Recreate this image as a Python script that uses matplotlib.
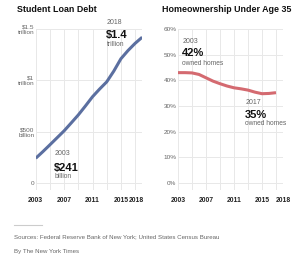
import numpy as np
import matplotlib
matplotlib.use("Agg")
import matplotlib.pyplot as plt
from matplotlib.transforms import ScaledTranslation

plt.rcParams['font.family'] = ['Liberation Sans', 'DejaVu Sans']

# Student loan debt (trillions of dollars)
anos_deuda = [2003, 2004, 2005, 2006, 2007, 2008, 2009, 2010, 2011,
              2012, 2013, 2014, 2015, 2016, 2017, 2018]
deuda = [0.241, 0.305, 0.372, 0.440, 0.508, 0.585, 0.663, 0.750, 0.840,
         0.915, 0.985, 1.090, 1.210, 1.290, 1.360, 1.420]

# Homeownership under age 35 (percent)
anos_casa = [2003, 2004, 2005, 2006, 2007, 2008, 2009, 2010, 2011,
             2012, 2013, 2014, 2015, 2016, 2017]
propietarios = [43.0, 43.0, 42.9, 42.3, 41.0, 39.7, 38.7, 37.8, 37.1,
                36.7, 36.2, 35.4, 34.8, 34.9, 35.2]

ticks_x = [2003, 2007, 2011, 2015, 2018]
grid_x = [2003, 2005, 2007, 2009, 2011, 2013, 2015, 2017, 2018]
ticks_deuda = [0, 0.5, 1.0, 1.5]
etiquetas_deuda = ['0', '$500\nbillion', '$1\ntrillion', '$1.5\ntrillion']
ticks_casa = [0, 10, 20, 30, 40, 50, 60]
etiquetas_casa = ['0%', '10%', '20%', '30%', '40%', '50%', '60%']

azul = '#5b6fa0'
rojo = '#d46a70'
gris_grid = '#e8e8e8'
gris_texto = '#666666'

fig = plt.figure(figsize=(3.0, 2.57), dpi=100)
ax1 = fig.add_axes([0.119, 0.2607, 0.355, 0.6265])
ax2 = fig.add_axes([0.5933, 0.2607, 0.35, 0.6265])


def estilo(ax):
    for s in ax.spines.values():
        s.set_visible(False)
    ax.set_xlim(2003, 2018)
    for g in grid_x:
        ax.axvline(g, color=gris_grid, lw=0.7, zorder=0)
    ax.tick_params(length=0, pad=1)
    ax.set_xticks(ticks_x)
    ax.set_xticklabels([str(a) for a in ticks_x], fontsize=4.9,
                       fontweight='bold', color='#222222')
    ax.tick_params(axis='x', pad=5)


# left: student loan debt
estilo(ax1)
ax1.set_ylim(-0.068, 1.5)
for v in ticks_deuda:
    ax1.axhline(v, color=gris_grid, lw=0.7, zorder=0)
ax1.set_yticks(ticks_deuda)
ax1.set_yticklabels(etiquetas_deuda, fontsize=4.6, color=gris_texto,
                    linespacing=1.1)
ultima = ax1.get_xticklabels()[-1]
ultima.set_transform(ultima.get_transform() +
                     ScaledTranslation(-6 / 100, 0, fig.dpi_scale_trans))
ax1.plot(anos_deuda, deuda, color=azul, lw=2.2, solid_capstyle='butt')

ax1.text(2005.6, 0.285, '2003', fontsize=5, color=gris_texto, va='center')
ax1.text(2005.5, 0.149, '$241', fontsize=8, fontweight='bold',
         color='#111111', va='center')
ax1.text(2005.6, 0.061, 'billion', fontsize=4.8, color=gris_texto, va='center')
ax1.text(2013.0, 1.56, '2018', fontsize=5, color=gris_texto, va='center',
         clip_on=False)
ax1.text(2012.9, 1.44, '$1.4', fontsize=8, fontweight='bold',
         color='#111111', va='center')
ax1.text(2013.0, 1.35, 'trillion', fontsize=4.8, color=gris_texto, va='center')

# right: homeownership
estilo(ax2)
ax2.set_ylim(-2.7, 60)
for v in ticks_casa:
    ax2.axhline(v, color=gris_grid, lw=0.7, zorder=0)
ax2.set_yticks(ticks_casa)
ax2.set_yticklabels(etiquetas_casa, fontsize=4.6, color=gris_texto)
ax2.plot(anos_casa, propietarios, color=rojo, lw=2.2, solid_capstyle='butt')

ax2.text(2003.6, 55.2, '2003', fontsize=5, color=gris_texto, va='center')
ax2.text(2003.5, 50.5, '42%', fontsize=8, fontweight='bold',
         color='#111111', va='center')
ax2.text(2003.6, 46.6, 'owned homes', fontsize=4.8, color=gris_texto,
         va='center')
ax2.text(2012.6, 31.4, '2017', fontsize=5, color=gris_texto, va='center')
ax2.text(2012.5, 26.7, '35%', fontsize=8, fontweight='bold',
         color='#111111', va='center')
ax2.text(2012.6, 23.2, 'owned homes', fontsize=4.8, color=gris_texto,
         va='center')

# titles
fig.text(17 / 300, 1 - 9 / 257, 'Student Loan Debt', fontsize=6.4,
         fontweight='bold', color='#111111', va='center')
fig.text(162 / 300, 1 - 9 / 257, 'Homeownership Under Age 35', fontsize=6.4,
         fontweight='bold', color='#111111', va='center')

# footer
fig.add_artist(plt.Line2D([14 / 300, 42 / 300], [1 - 225 / 257, 1 - 225 / 257],
                          color='#cccccc', lw=0.8))
fig.text(14 / 300, 1 - 237 / 257,
         'Sources: Federal Reserve Bank of New York; United States Census Bureau',
         fontsize=4.4, color=gris_texto, va='center')
fig.text(14 / 300, 1 - 251 / 257, 'By The New York Times', fontsize=4.4,
         color=gris_texto, va='center')

fig.savefig('out.png', dpi=100)
